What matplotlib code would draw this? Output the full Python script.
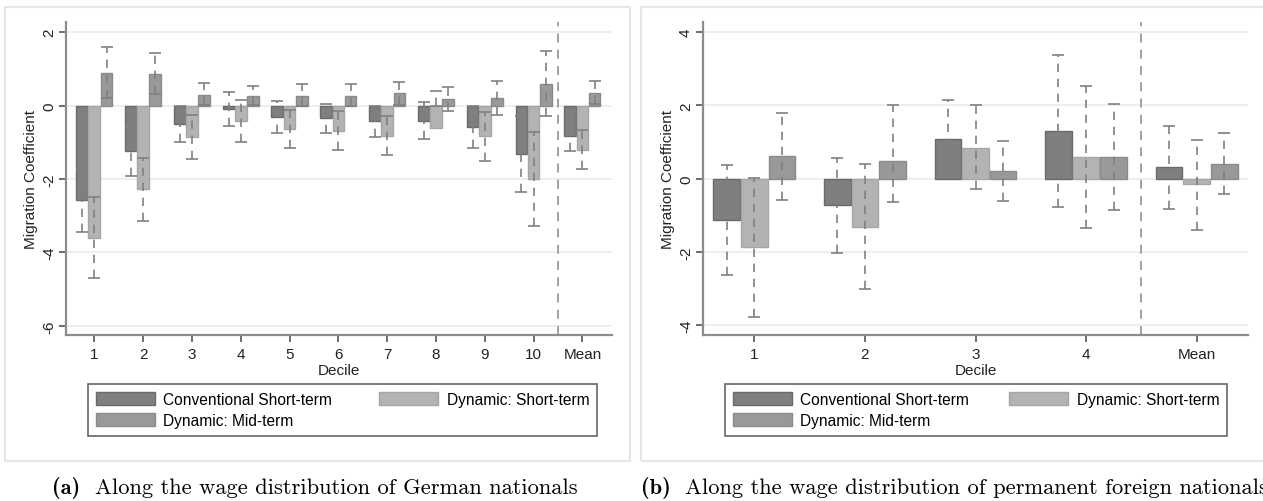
import numpy as np
import matplotlib
matplotlib.use("Agg")
import matplotlib.pyplot as plt
from matplotlib.patches import Rectangle

# series in legend order
series_names = ["Conventional Short-term", "Dynamic: Short-term", "Dynamic: Mid-term"]

# panel (a): German nationals
labels_a = ["1", "2", "3", "4", "5", "6", "7", "8", "9", "10", "Mean"]
conv_a = [-2.58, -1.25, -0.50, -0.09, -0.30, -0.35, -0.43, -0.41, -0.57, -1.32, -0.82]
conv_a_lo = [-3.43, -1.93, -1.00, -0.56, -0.75, -0.75, -0.85, -0.91, -1.16, -2.36, -1.25]
conv_a_hi = [-1.73, -0.57, 0.00, 0.37, 0.13, 0.05, 0.00, 0.09, 0.00, -0.28, -0.39]
dst_a = [-3.62, -2.27, -0.85, -0.41, -0.64, -0.68, -0.82, -0.62, -0.82, -2.00, -1.21]
dst_a_lo = [-4.71, -3.14, -1.45, -0.98, -1.15, -1.20, -1.34, -0.02, -1.50, -3.27, -1.73]
dst_a_hi = [-2.50, -1.42, -0.25, 0.15, -0.12, -0.16, -0.29, 0.39, -0.18, -0.71, -0.66]
dmt_a = [0.89, 0.87, 0.29, 0.27, 0.27, 0.27, 0.34, 0.18, 0.21, 0.59, 0.35]
dmt_a_lo = [0.21, 0.33, 0.02, 0.02, 0.00, -0.02, 0.02, -0.14, -0.25, -0.27, 0.05]
dmt_a_hi = [1.59, 1.44, 0.61, 0.54, 0.58, 0.58, 0.65, 0.50, 0.68, 1.48, 0.66]

# panel (b): permanent foreign nationals
labels_b = ["1", "2", "3", "4", "Mean"]
conv_b = [-1.14, -0.73, 1.09, 1.30, 0.32]
conv_b_lo = [-2.64, -2.02, 0.04, -0.78, -0.82]
conv_b_hi = [0.36, 0.57, 2.14, 3.39, 1.45]
dst_b = [-1.86, -1.32, 0.85, 0.58, -0.15]
dst_b_lo = [-3.77, -3.02, -0.29, -1.34, -1.39]
dst_b_hi = [0.03, 0.41, 2.00, 2.52, 1.06]
dmt_b = [0.61, 0.48, 0.20, 0.58, 0.41]
dmt_b_lo = [-0.59, -0.64, -0.62, -0.86, -0.43]
dmt_b_hi = [1.80, 2.00, 1.04, 2.05, 1.25]

plt.rcParams["font.family"] = ["Liberation Sans", "DejaVu Sans"]
plt.rcParams["axes.unicode_minus"] = False

fills = ["#7f7f7f", "#b3b3b3", "#999999"]
edges = ["#6a6a6a", "#a6a6a6", "#8a8a8a"]
ci_color = "#808080"

fig = plt.figure(figsize=(12.63, 5.02), dpi=100)
W, H = 1263.0, 502.0


def px(x0, y0, x1, y1):
    # pixel box (top-left origin) -> figure fraction rect
    return [x0 / W, 1 - y1 / H, (x1 - x0) / W, (y1 - y0) / H]


def draw_panel(rect, labels, vals, los, his, ylim, yticks, xlim, legend_box):
    ax = fig.add_axes(rect)
    x = np.arange(1, len(labels) + 1)
    offsets = [-0.25, 0.0, 0.25]
    handles = []
    for i in range(3):
        b = ax.bar(x + offsets[i], vals[i], width=0.24, color=fills[i],
                   edgecolor=edges[i], linewidth=1.0, zorder=2, label=series_names[i])
        handles.append(b)
    for i in range(3):
        lo = np.array(los[i])
        hi = np.array(his[i])
        mid = (lo + hi) / 2
        eb = ax.errorbar(x + offsets[i], mid, yerr=(hi - lo) / 2, fmt="none",
                         ecolor=ci_color, elinewidth=1.2, capsize=4, capthick=1.2, zorder=3)
        eb[2][0].set_linestyle((0, (5, 4)))
    ax.axvline(len(labels) - 0.5, color="#9a9a9a", lw=1.3, ls=(0, (5, 4)), zorder=1)
    ax.set_xlim(*xlim)
    ax.set_ylim(*ylim)
    ax.set_yticks(yticks)
    ax.set_yticklabels([str(t) for t in yticks], rotation=90, va="center", fontsize=11)
    ax.set_xticks(x)
    ax.set_xticklabels(labels, fontsize=11)
    ax.grid(axis="y", color="#ebebeb", lw=1.2, zorder=0)
    ax.set_axisbelow(True)
    for s in ["top", "right"]:
        ax.spines[s].set_visible(False)
    for s in ["left", "bottom"]:
        ax.spines[s].set_color("#8c8c8c")
        ax.spines[s].set_linewidth(1.6)
    ax.tick_params(axis="both", direction="out", length=5, width=1.2, color="#555555",
                   labelcolor="#222222", pad=2)
    ax.tick_params(axis="x", pad=4)
    ax.set_xlabel("Decile", fontsize=11, labelpad=1, color="#222222")
    ax.set_ylabel("Migration Coefficient", fontsize=11, labelpad=3, color="#222222")
    order = [0, 2, 1]
    leg = ax.legend([handles[k] for k in order], [series_names[k] for k in order],
                    ncol=2, loc="upper left", bbox_to_anchor=legend_box,
                    bbox_transform=fig.transFigure, mode="expand", fontsize=11.2,
                    handlelength=3.8, handleheight=0.95, handletextpad=0.55,
                    labelspacing=0.4, borderpad=0.5, columnspacing=1.2,
                    fancybox=False, frameon=True, borderaxespad=0)
    leg.get_frame().set_edgecolor("#404040")
    leg.get_frame().set_linewidth(1.2)
    return ax


# outer light frames of each graph region
fig.patches.append(Rectangle((5 / W, 1 - 462 / H), 625 / W, 454 / H, transform=fig.transFigure,
                             fill=False, edgecolor="#e6e6e6", lw=1.5))
fig.patches.append(Rectangle((641 / W, 1 - 462 / H), 630 / W, 454 / H, transform=fig.transFigure,
                             fill=False, edgecolor="#e6e6e6", lw=1.5))

draw_panel(px(66, 23.3, 611.7, 336), labels_a,
           [conv_a, dst_a, dmt_a], [conv_a_lo, dst_a_lo, dmt_a_lo], [conv_a_hi, dst_a_hi, dmt_a_hi],
           (-6.25, 2.27), [-6, -4, -2, 0, 2], (0.42, 11.6),
           px(88, 385, 597, 440))

draw_panel(px(702.7, 23.3, 1248.3, 336), labels_b,
           [conv_b, dst_b, dmt_b], [conv_b_lo, dst_b_lo, dmt_b_lo], [conv_b_hi, dst_b_hi, dmt_b_hi],
           (-4.27, 4.27), [-4, -2, 0, 2, 4], (0.533, 5.467),
           px(725, 385, 1227, 440))

# captions below the panels
cap_y = 1 - 488 / H
cap_size = 16.2
fig.text(52 / W, cap_y, "(a)", family="cmb10", fontsize=cap_size, va="center", ha="left")
fig.text(95 / W, cap_y, "Along the wage distribution of German nationals", family="cmr10",
         fontsize=cap_size, va="center", ha="left")
fig.text(641 / W, cap_y, "(b)", family="cmb10", fontsize=cap_size, va="center", ha="left")
fig.text(685 / W, cap_y, "Along the wage distribution of permanent foreign nationals",
         family="cmr10", fontsize=cap_size, va="center", ha="left")

fig.savefig("out.png", dpi=100)
